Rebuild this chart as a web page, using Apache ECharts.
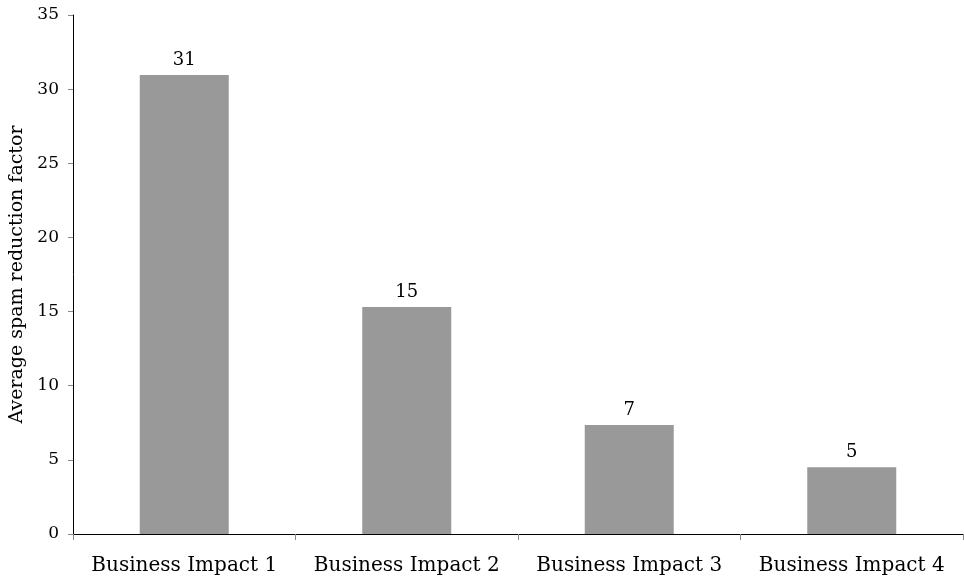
<!DOCTYPE html>
<html>
<head>
<meta charset="utf-8">
<script src="https://cdn.jsdelivr.net/npm/echarts@6/dist/echarts.min.js"></script>
<style>
  html, body { margin: 0; padding: 0; background: #fff; }
  #chart { width: 964px; height: 582px; }
</style>
</head>
<body>
<div id="chart"></div>
<script>
// Average spam reduction factor per business impact level
const categories = ['Business Impact 1', 'Business Impact 2', 'Business Impact 3', 'Business Impact 4'];
const reductionFactor = [30.95, 15.3, 7.35, 4.5];
const yTicks = { min: 0, max: 35, interval: 5 };

const serif = 'DejaVu Serif';
const chart = echarts.init(document.getElementById('chart'));
chart.setOption({
  animation: false,
  grid: { left: 73, right: 1, top: 15, bottom: 48, containLabel: false, outerBoundsMode: 'none' },
  xAxis: {
    type: 'category',
    data: categories,
    axisLine: { lineStyle: { color: '#000', width: 1 } },
    axisTick: { show: true, length: 6, lineStyle: { color: '#888' } },
    axisLabel: { color: '#000', fontFamily: serif, fontSize: 20, margin: 22, interval: 0, hideOverlap: false }
  },
  yAxis: {
    type: 'value',
    min: yTicks.min, max: yTicks.max, interval: yTicks.interval,
    name: 'Average spam reduction factor',
    nameLocation: 'middle',
    nameGap: 46,
    nameTextStyle: { color: '#000', fontFamily: serif, fontSize: 19 },
    axisLine: { show: true, lineStyle: { color: '#000', width: 1 } },
    axisTick: { show: true, length: 5, lineStyle: { color: '#888' } },
    axisLabel: { color: '#000', fontFamily: serif, fontSize: 17, margin: 14 },
    splitLine: { show: false }
  },
  series: [{
    type: 'bar',
    data: reductionFactor,
    barWidth: '40%',
    itemStyle: { color: '#999999' },
    label: {
      show: true,
      position: 'top',
      distance: 6,
      color: '#000',
      fontFamily: serif,
      fontSize: 18,
      formatter: p => Math.round(p.value)
    }
  }]
});
</script>
</body>
</html>
